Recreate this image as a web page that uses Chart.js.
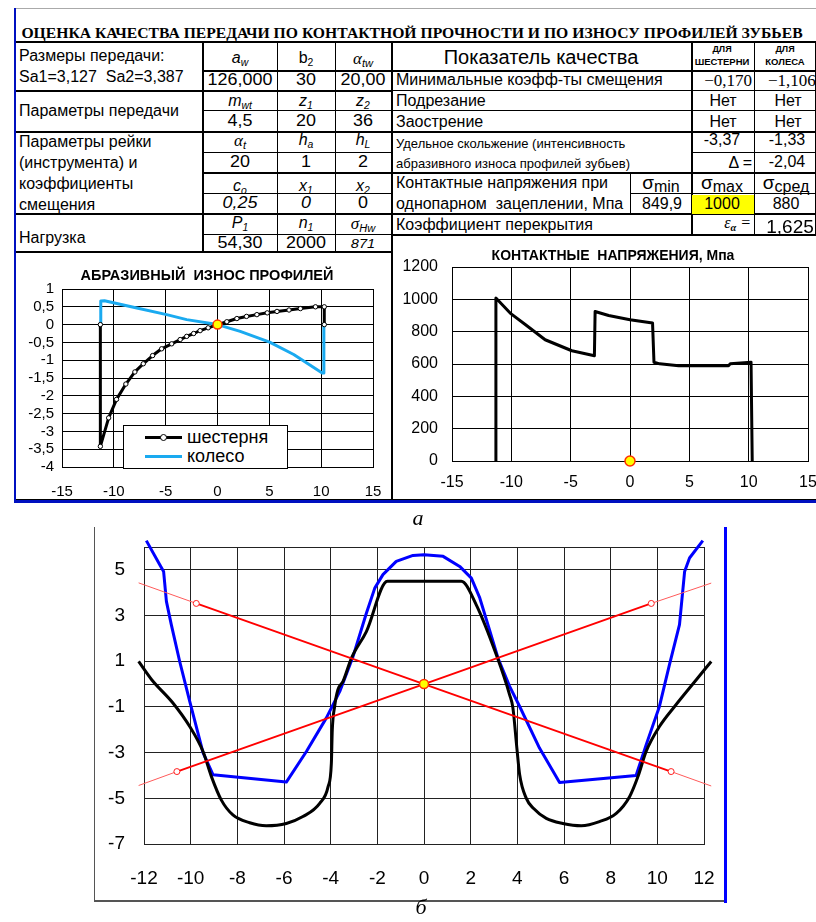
<!DOCTYPE html>
<html lang="ru">
<head>
<meta charset="utf-8">
<title>Оценка качества передачи</title>
<script src="https://cdn.jsdelivr.net/npm/chart.js@4.4.1/dist/chart.umd.min.js"></script>
<style>
    html, body { margin: 0; padding: 0; background: #fff; overflow: hidden; }
    body { position: relative; width: 816px; height: 922px; font-family: "Liberation Sans", Arial, sans-serif; color: #000; }
    .t { position: absolute; white-space: nowrap; line-height: 1; font-size: 16px; }
    .c { transform: translate(-50%, -50%); }
    .l { transform: translateY(-50%); }
    .r { transform: translate(-100%, -50%); }
    .w { transform: translate(-50%, -50%) scaleX(1.12); }
    .serif { font-family: "Liberation Serif", "Times New Roman", serif; }
    .i { font-style: italic; }
    .t sub { font-size: 0.65em; vertical-align: baseline; position: relative; top: 0.3em; }
    .rule { position: absolute; background: #000; }
    canvas { position: absolute; }
    .cap { font-family: "Liberation Serif", "Times New Roman", serif; font-style: italic; font-size: 22px; }
</style>
</head>
<body>

<canvas id="wearChart" width="376" height="244" style="left:16px;top:256px"></canvas>
<canvas id="stressChart" width="428" height="264" style="left:393px;top:236px"></canvas>
<canvas id="profileChart" width="629" height="383" style="left:95px;top:515px"></canvas>

<div id="rules"></div>

<div class="t c serif" id="title" style="left:412px;top:33px;font-size:14.5px;font-weight:bold">ОЦЕНКА КАЧЕСТВА ПЕРЕДАЧИ ПО КОНТАКТНОЙ ПРОЧНОСТИ И ПО ИЗНОСУ ПРОФИЛЕЙ ЗУБЬЕВ</div>

<!-- left part of the table -->
<div class="t l" style="left:19px;top:56px">Размеры передачи:</div>
<div class="t l" style="left:19px;top:77px">Sa1=3,127&nbsp; Sa2=3,387</div>
<div class="t l" style="left:19px;top:111px">Параметры передачи</div>
<div class="t l" style="left:19px;top:142px">Параметры рейки</div>
<div class="t l" style="left:19px;top:163px">(инструмента) и</div>
<div class="t l" style="left:19px;top:184px">коэффициенты</div>
<div class="t l" style="left:19px;top:205px">смещения</div>
<div class="t l" style="left:19px;top:238px">Нагрузка</div>

<div class="t c i" style="left:240px;top:58px"><i>a</i><sub>w</sub></div>
<div class="t c" style="left:306px;top:58px">b<sub>2</sub></div>
<div class="t c i serif" style="left:363px;top:58px;font-size:17px">α<sub style="font-family:'Liberation Sans'">tw</sub></div>
<div class="t w" style="left:240px;top:80px">126,000</div>
<div class="t w" style="left:306px;top:80px">30</div>
<div class="t w" style="left:363px;top:80px">20,00</div>

<div class="t c i" style="left:240px;top:101px">m<sub>wt</sub></div>
<div class="t c i" style="left:306px;top:101px">z<sub>1</sub></div>
<div class="t c i" style="left:363px;top:101px">z<sub>2</sub></div>
<div class="t w" style="left:240px;top:121px">4,5</div>
<div class="t w" style="left:306px;top:121px">20</div>
<div class="t w" style="left:363px;top:121px">36</div>

<div class="t c i serif" style="left:240px;top:140px;font-size:17px">α<sub style="font-family:'Liberation Sans'">t</sub></div>
<div class="t c i" style="left:306px;top:140px">h<sub>a</sub></div>
<div class="t c i" style="left:363px;top:140px">h<sub>L</sub></div>
<div class="t w" style="left:240px;top:162px">20</div>
<div class="t w" style="left:306px;top:162px">1</div>
<div class="t w" style="left:363px;top:162px">2</div>

<div class="t c i" style="left:240px;top:186px">c<sub>o</sub></div>
<div class="t c i" style="left:306px;top:186px">x<sub>1</sub></div>
<div class="t c i" style="left:363px;top:186px">x<sub>2</sub></div>
<div class="t w i" style="left:240px;top:203px">0,25</div>
<div class="t w i" style="left:306px;top:203px">0</div>
<div class="t w" style="left:363px;top:203px">0</div>

<div class="t c i" style="left:240px;top:223px">P<sub>1</sub></div>
<div class="t c i" style="left:306px;top:223px">n<sub>1</sub></div>
<div class="t c i serif" style="left:363px;top:223px;font-size:17px">σ<sub style="font-family:'Liberation Sans'">Hw</sub></div>
<div class="t w" style="left:240px;top:243px">54,30</div>
<div class="t w" style="left:306px;top:243px">2000</div>
<div class="t w i" style="left:363px;top:243px;font-size:13px">871</div>

<!-- right part of the table -->
<div class="t c" style="left:541px;top:57px;font-size:20px">Показатель качества</div>
<div class="t c" style="left:722px;top:49px;font-size:9px;font-weight:bold">ДЛЯ</div>
<div class="t c" style="left:722px;top:62px;font-size:9.5px;font-weight:bold">ШЕСТЕРНИ</div>
<div class="t c" style="left:785px;top:49px;font-size:9px;font-weight:bold">ДЛЯ</div>
<div class="t c" style="left:785px;top:62px;font-size:9.5px;font-weight:bold">КОЛЕСА</div>

<div class="t l" style="left:396px;top:80px">Минимальные коэфф-ты смещения</div>
<div class="t r serif" style="left:752px;top:80px;font-size:17px">−0,170</div>
<div class="t l serif" style="left:768px;top:80px;font-size:17px">−1,106</div>

<div class="t l" style="left:396px;top:101px">Подрезание</div>
<div class="t c" style="left:723px;top:101px">Нет</div>
<div class="t c" style="left:788px;top:101px">Нет</div>
<div class="t l" style="left:396px;top:122px">Заострение</div>
<div class="t c" style="left:723px;top:122px">Нет</div>
<div class="t c" style="left:788px;top:122px">Нет</div>

<div class="t l" style="left:396px;top:143px;font-size:13px">Удельное скольжение (интенсивность</div>
<div class="t l" style="left:396px;top:163px;font-size:13px">абразивного износа профилей зубьев)</div>
<div class="t c" style="left:722px;top:140px">-3,37</div>
<div class="t c" style="left:787px;top:140px">-1,33</div>
<div class="t r" style="left:752px;top:163px">Δ =</div>
<div class="t c" style="left:787px;top:162px">-2,04</div>

<div class="t l" style="left:396px;top:183px">Контактные напряжения при</div>
<div class="t l" style="left:396px;top:204px">однопарном&nbsp; зацеплении, Мпа</div>
<div class="t c" style="left:661px;top:182px"><span style="font-size:19px">σ</span><span style="position:relative;top:3px">min</span></div>
<div class="t c" style="left:722px;top:182px"><span style="font-size:19px">σ</span><span style="position:relative;top:3px">max</span></div>
<div class="t c" style="left:786px;top:182px"><span style="font-size:19px">σ</span><span style="position:relative;top:3px">сред</span></div>
<div class="t c" style="left:662px;top:204px">849,9</div>
<div style="position:absolute;left:692px;top:195px;width:62px;height:19px;background:#ffff00"></div>
<div class="t c" style="left:722px;top:204px">1000</div>
<div class="t c" style="left:786px;top:204px">880</div>

<div class="t l" style="left:396px;top:225px">Коэффициент перекрытия</div>
<div class="t r serif i" style="left:751px;top:223px;font-size:16px">ε<sub style="font-weight:bold">α</sub> =</div>
<div class="t c" style="left:790px;top:226px;font-size:19px">1,625</div>

<!-- chart titles and legend -->
<div class="t c" style="left:207px;top:275px;font-size:14.5px;font-weight:bold">АБРАЗИВНЫЙ&nbsp; ИЗНОС ПРОФИЛЕЙ</div>
<div class="t c" style="left:613px;top:255px;font-size:14px;font-weight:bold">КОНТАКТНЫЕ&nbsp; НАПРЯЖЕНИЯ, Мпа</div>

<div style="position:absolute;left:123px;top:425px;width:163px;height:42px;border:1px solid #000;background:#fff"></div>
<div class="rule" style="left:145px;top:436px;width:37px;height:3px"></div>
<div style="position:absolute;left:160px;top:434px;width:5px;height:5px;border:1px solid #000;border-radius:50%;background:#fff"></div>
<div class="t l" style="left:187px;top:437px;font-size:18px">шестерня</div>
<div class="rule" style="left:145px;top:455px;width:37px;height:3px;background:#1aaaf0"></div>
<div class="t l" style="left:187px;top:456px;font-size:18px">колесо</div>

<div class="t c cap" style="left:418px;top:518px">а</div>
<div class="t c cap" style="left:421px;top:907px">б</div>

<script>
// ---------- АБРАЗИВНЫЙ ИЗНОС ПРОФИЛЕЙ ----------
const pinionWearX = [-11.3, -11.3, -10.5, -9.74, -8.84, -7.97, -7.16, -6.26, -5.39, -4.42, -3.6, -2.97, -2.3, -1.68, -0.9, 0, 0.9, 1.87, 2.8, 3.8, 4.8, 5.74, 6.9, 8, 9.45, 10.3, 10.3];
const pinionWearY = [0, -3.42, -2.62, -2.1, -1.67, -1.33, -1.1, -0.87, -0.68, -0.54, -0.42, -0.33, -0.25, -0.17, -0.09, 0, 0.08, 0.17, 0.23, 0.28, 0.33, 0.37, 0.41, 0.45, 0.5, 0.5, 0];
const wheelWearX = [-11.26, -11.26, -10.9, -8, -4.9, -2.97, 0, 2.19, 5.03, 7.35, 10.1, 10.26, 10.26];
const wheelWearY = [0, 0.66, 0.67, 0.48, 0.28, 0.14, 0, -0.19, -0.49, -0.84, -1.36, -1.36, 0];

// ---------- КОНТАКТНЫЕ НАПРЯЖЕНИЯ ----------
const stressX = [-11.3, -11.3, -10.1, -8.8, -7.15, -4.9, -3.0, -2.94, -1.8, 0, 1.9, 2.02, 2.5, 4.1, 8.3, 8.45, 10.2, 10.3];
const stressY = [0, 1008, 915, 843, 750, 682, 651, 925, 900, 874, 853, 611, 601, 589, 589, 601, 611, 0];

// ---------- б: профильные кривые ----------
const pinionX = [-12.23, -11.67, -10.76, -10.04, -9.47, -9.11, -8.69, -8.19, -7.47, -6.76, -5.9, -5.19, -4.47, -4.11, -3.97, -3.93, -3.83, -3.69, -3.47, -3.11, -2.47, -1.57, 1.6, 2.24, 3.1, 3.67, 3.81, 3.98, 4.1, 4.38, 4.7, 5.24, 5.95, 6.74, 7.52, 8.24, 8.81, 9.17, 9.52, 10.09, 10.74, 11.67, 12.31];
const pinionY = [0.99, 0.19, -0.83, -1.86, -2.95, -4.05, -5.07, -5.73, -6.07, -6.2, -6.1, -5.8, -5.22, -4.49, -3.46, -2.0, -0.98, -0.25, 0.12, 1.14, 2.3, 4.5, 4.5, 3.47, 1.28, -0.47, -1.04, -2.8, -3.97, -4.99, -5.45, -5.88, -6.1, -6.2, -6.02, -5.66, -4.93, -4.05, -2.95, -1.86, -0.98, 0.19, 0.99];
const wheelX = [-11.9, -11.33, -11.16, -11.04, -10.83, -10.47, -10.04, -9.47, -9.04, -5.9, -5.04, -4.19, -3.61, -3.04, -2.47, -2.11, -1.76, -1.19, -0.47, 0, 0.82, 1.53, 2.03, 2.39, 2.74, 3.17, 3.67, 4.1, 4.95, 5.81, 9.09, 9.52, 10.09, 10.52, 10.95, 11.17, 11.38, 11.95];
const wheelY = [6.28, 5.23, 4.93, 3.62, 2.6, 0.99, -0.76, -3.0, -3.97, -4.29, -2.95, -1.49, -0.32, 1.21, 3.1, 4.2, 4.79, 5.37, 5.63, 5.66, 5.59, 5.15, 4.64, 3.77, 2.6, 1.14, -0.1, -0.98, -2.8, -4.31, -4.0, -2.66, -0.98, 0.85, 2.6, 4.93, 5.52, 6.28];
const redFallX = [-12.23, -9.76, 0, 10.59, 12.31];
const redFallY = [4.43, 3.53, 0, -3.83, -4.46];
const redRiseX = [-12.23, -10.59, 0, 9.74, 12.31];
const redRiseY = [-4.44, -3.83, 0, 3.53, 4.42];
const profileYTicks = [-7, -5, -3, -1, 0, 1, 3, 5, 6];
const profileYLabels = ['-7', '-5', '-3', '-1', '', '1', '3', '5', ''];

// полюс зацепления
const poleX = [0];
const poleY = [0];

Chart.defaults.font.family = '"Liberation Sans", Arial, sans-serif';
Chart.defaults.color = '#000';

/** table rules: [y, x1, x2, thickness, colour] and [x, y1, y2, thickness, colour] */
const rulesH = [
    [8, 15, 816, 1, '#aaa'], [41, 15, 816, 2], [70, 202, 816, 1.5], [90, 15, 392, 2], [90, 392, 816, 1],
    [110, 202, 816, 1], [131, 15, 816, 2], [152, 202, 392, 1], [152, 691, 816, 1], [172, 202, 816, 2],
    [193, 202, 392, 1], [193, 630, 816, 1], [213, 15, 816, 2], [234, 202, 392, 1], [234, 392, 816, 2],
    [251, 15, 392, 2], [499, 15, 816, 1], [500, 15, 816, 2.5, '#0010c0'],
    [900, 94, 725, 1.5, '#555']
];
const rulesV = [
    [14, 8, 503, 2, '#0010c0'], [201.5, 41, 252, 2], [276.5, 41, 252, 1], [334.5, 41, 252, 1], [391, 41, 500, 2],
    [690.5, 41, 235, 2], [754, 41, 235, 1], [629.5, 172, 213, 1], [815, 41, 235, 1],
    [93.5, 527, 901, 1.5, '#555'], [724, 527, 903, 3, '#0000ff']
];

function drawRules() {
    let host = document.getElementById('rules');
    rulesH.forEach(r => {
        let d = document.createElement('div');
        d.className = 'rule';
        d.style.cssText = `left:${r[1]}px;top:${r[0]}px;width:${r[2] - r[1]}px;height:${r[3]}px;background:${r[4] || '#000'}`;
        host.appendChild(d);
    });
    rulesV.forEach(r => {
        let d = document.createElement('div');
        d.className = 'rule';
        d.style.cssText = `left:${r[0]}px;top:${r[1]}px;width:${r[3]}px;height:${r[2] - r[1]}px;background:${r[4] || '#000'}`;
        host.appendChild(d);
    });
}

/** stretch the title to the width it has in the picture */
function fitTitle() {
    let el = document.getElementById('title');
    el.style.transform = `translate(-50%, -50%) scaleX(${781 / el.offsetWidth})`;
}

function xy(xs, ys) {
    return xs.map((x, i) => ({x: x, y: ys[i]}));
}

function series(label, xs, ys, color, width, extra) {
    return Object.assign({
        label: label,
        data: xy(xs, ys),
        showLine: true,
        borderColor: color,
        backgroundColor: color,
        borderWidth: width,
        borderJoinStyle: 'round',
        pointRadius: 0,
        pointHoverRadius: 0,
        tension: 0,
        clip: false
    }, extra || {});
}

function pole(r) {
    return series('полюс', poleX, poleY, '#ff2a00', 0, {
        showLine: false,
        pointRadius: r,
        pointBackgroundColor: '#ffff00',
        pointBorderColor: '#ff3000',
        pointBorderWidth: 1.5
    });
}

function redLine(label, xs, ys) {
    let last = xs.length - 1;
    return series(label, xs, ys, '#ff0000', 2, {
        pointRadius: xs.map((x, i) => (i === 1 || i === 3) ? 3 : 0),
        pointBackgroundColor: '#fff',
        pointBorderColor: '#ff2020',
        pointBorderWidth: 1,
        segment: {
            borderWidth: ctx => (ctx.p0DataIndex === 0 || ctx.p1DataIndex === last) ? 1 : 2,
            borderColor: ctx => (ctx.p0DataIndex === 0 || ctx.p1DataIndex === last) ? '#ff5a5a' : '#ff0000'
        }
    });
}

/**
 * scatter chart whose plot area is pinned by fixed axis sizes and padding.
 * x labels sit lower through the line height, not the tick padding,
 * because chart.js reserves the tick padding again at the right edge
 * @param id {string}
 * @param datasets {Array}
 * @param o {Object} axis geometry and ticks
 */
function makeChart(id, datasets, o) {
    return new Chart(document.getElementById(id), {
        type: 'scatter',
        data: {datasets: datasets},
        options: {
            responsive: false,
            animation: false,
            devicePixelRatio: 1,
            events: [],
            layout: {padding: {top: o.top, right: o.right, left: 0, bottom: 0}},
            plugins: {legend: {display: false}, tooltip: {enabled: false}},
            scales: {
                x: {
                    type: 'linear',
                    min: o.xMin,
                    max: o.xMax,
                    afterFit: s => { s.height = o.xHeight; },
                    grid: {color: o.grid, lineWidth: 1, drawTicks: false},
                    border: {color: o.grid, width: 1},
                    ticks: {
                        stepSize: o.xStep,
                        padding: 0,
                        font: {size: o.font, lineHeight: 2 * o.xOffset / o.font},
                        maxRotation: 0,
                        autoSkip: false
                    }
                },
                y: {
                    type: 'linear',
                    min: o.yMin,
                    max: o.yMax,
                    afterFit: s => { s.width = o.yWidth; },
                    afterBuildTicks: o.yTicks ? s => { s.ticks = o.yTicks.map(v => ({value: v})); } : undefined,
                    grid: {color: o.grid, lineWidth: 1, drawTicks: false},
                    border: {color: o.grid, width: 1},
                    ticks: {
                        stepSize: o.yStep,
                        padding: o.yPad,
                        font: {size: o.font},
                        autoSkip: false,
                        callback: o.yLabel
                    }
                }
            }
        }
    });
}

drawRules();
fitTitle();

makeChart('wearChart', [
    pole(4.5),
    series('шестерня', pinionWearX, pinionWearY, '#000', 3, {
        pointRadius: 2.2, pointBackgroundColor: '#fff', pointBorderColor: '#000', pointBorderWidth: 1
    }),
    series('колесо', wheelWearX, wheelWearY, '#1aaaf0', 3)
], {
    top: 33, right: 19, xHeight: 33, yWidth: 46,
    xMin: -15, xMax: 15, xStep: 5, xOffset: 25,
    yMin: -4, yMax: 1, yStep: 0.5, yPad: 8,
    font: 15, grid: '#000',
    yLabel: v => String(v).replace('.', ',')
});

makeChart('stressChart', [
    pole(5),
    series('напряжения', stressX, stressY, '#000', 3)
], {
    top: 31, right: 13, xHeight: 39, yWidth: 59,
    xMin: -15, xMax: 15, xStep: 5, xOffset: 22,
    yMin: 0, yMax: 1200, yStep: 200, yPad: 14,
    font: 16, grid: '#000',
    yLabel: v => v
});

makeChart('profileChart', [
    pole(4.5),
    redLine('прямая 1', redFallX, redFallY),
    redLine('прямая 2', redRiseX, redRiseY),
    series('шестерня', pinionX, pinionY, '#000', 3, {cubicInterpolationMode: 'monotone'}),
    series('колесо', wheelX, wheelY, '#0000ff', 3)
], {
    top: 32, right: 20, xHeight: 54, yWidth: 49,
    xMin: -12, xMax: 12, xStep: 2, xOffset: 35,
    yMin: -7, yMax: 6, yPad: 19,
    yTicks: profileYTicks,
    font: 19, grid: '#222',
    yLabel: (v, i) => profileYLabels[i]
});
</script>
</body>
</html>
